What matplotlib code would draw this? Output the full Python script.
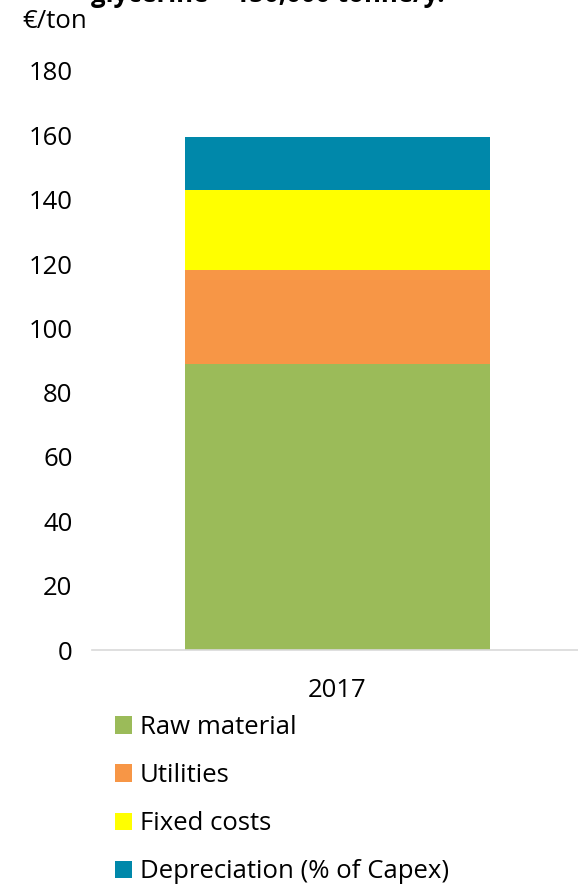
import matplotlib.pyplot as plt
import numpy as np

years = ["2017"]
labels = ["Raw material", "Utilities", "Fixed costs", "Depreciation (% of Capex)"]
raw_material = [89]
utilities = [29]
fixed_costs = [25]
depreciation = [16.5]
colors = ["#9bbb59", "#f79646", "#ffff00", "#0088aa"]
yticks = list(range(0, 181, 20))

plt.rcParams['font.family'] = ['Open Sans', 'DejaVu Sans']
fs = 18.5

fig = plt.figure(figsize=(5.78, 8.85), dpi=100)
ax = fig.add_axes([92/578, 1-650/885, 491/578, (650-71)/885])

x = np.arange(len(years))
bottom = np.zeros(len(years))
handles = []
for vals, lab, c in zip([raw_material, utilities, fixed_costs, depreciation], labels, colors):
	b = ax.bar(x, vals, width=0.62, bottom=bottom, color=c, label=lab)
	handles.append(b)
	bottom += np.array(vals)

ax.set_xlim(-0.5, 0.5)
ax.set_ylim(0, 180)
ax.set_yticks(yticks)
ax.set_xticks(x)
ax.set_xticklabels(years)
ax.tick_params(length=0, labelsize=fs)
ax.tick_params(axis='y', pad=14)
ax.tick_params(axis='x', pad=20)
for s in ["top", "right", "left"]:
	ax.spines[s].set_visible(False)
ax.spines["bottom"].set_color("#d9d9d9")
ax.spines["bottom"].set_linewidth(1.2)

fig.text(22/578, 1-22/885, "€/ton", fontsize=fs, va='center', ha='left')
fig.text(268/578, 1-2/885, "glycerine – 150,000 tonne/y.", fontsize=fs, fontweight='bold',
	ha='center', va='baseline')

fig.legend(handles=handles, labels=labels, loc='upper left', bbox_to_anchor=(115/578, 1-715/885),
	frameon=False, fontsize=fs, handlelength=0.66, handleheight=0.66, handletextpad=0.31,
	labelspacing=0.9, borderpad=0, borderaxespad=0)

plt.savefig("out.png", dpi=100)
